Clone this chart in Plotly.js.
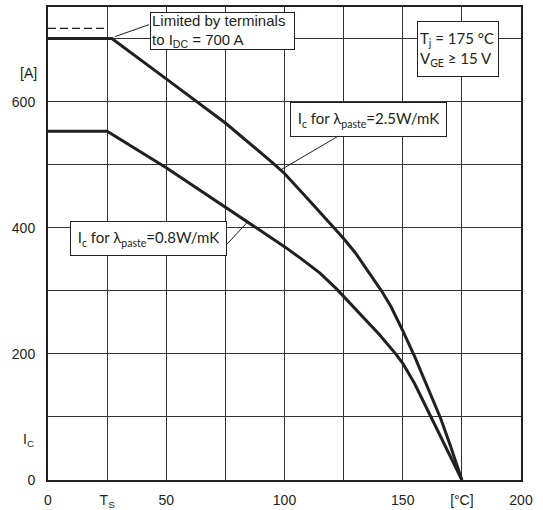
<!DOCTYPE html>
<html>
<head>
<meta charset="utf-8">
<script src="https://cdn.plot.ly/plotly-3.0.1.min.js"></script>
<style>html,body{margin:0;padding:0;background:#fff;}#chart{width:543px;height:510px;}</style>
</head>
<body>
<div id="chart"></div>
<script>
// Case temperature [°C]
const tempA = [0, 27, 50, 75, 95, 100, 110, 120.6, 125, 130, 135, 141, 145, 150, 155, 160, 166, 170, 175];
// Ic for lambda_paste = 2.5 W/mK [A]
const icPaste25 = [700, 700, 636, 566, 503, 486, 445, 401, 383, 360, 333, 300, 275, 237, 196, 152, 98, 56, 0];
const tempB = [0, 25, 50, 75, 85, 100, 107, 115, 122, 125, 130, 135, 140, 147, 150, 155, 161.5, 168, 175];
// Ic for lambda_paste = 0.8 W/mK [A]
const icPaste08 = [553, 553, 495, 433, 408, 370, 351, 328, 303, 291, 272, 252, 231, 200, 185, 153, 104, 54, 0];
// Terminal limit (dashed)
const tempLimit = [0, 25];
const icLimit = [716, 716];

const xTickVals = [0, 25, 50, 75, 100, 125, 150, 175, 200];
const xTickText = ['0', 'T<sub>S</sub>', '50', '', '100', '', '150', '[°C]', '200'];
const yTickVals = [0, 100, 200, 300, 400, 500, 600, 700];
const yTickText = ['0', '', '200', '', '400', '', '600', ''];

const curveColor = '#231f20';
const labelFont = {family: 'Lato, "Noto Sans", sans-serif', size: 15, color: '#231f20'};
const axisFont = {family: '"Liberation Sans", Arial, sans-serif', size: 14, color: '#231f20'};

const traces = [
  {x: tempA, y: icPaste25, mode: 'lines', line: {color: curveColor, width: 3}, hoverinfo: 'skip'},
  {x: tempB, y: icPaste08, mode: 'lines', line: {color: curveColor, width: 3}, hoverinfo: 'skip'},
  {x: tempLimit, y: icLimit, mode: 'lines', line: {color: curveColor, width: 1.3, dash: '8px,4px'}, hoverinfo: 'skip'}
];

const layout = {
  width: 543, height: 510,
  margin: {l: 48, r: 22, t: 7, b: 29.5},
  paper_bgcolor: '#fff', plot_bgcolor: '#fff',
  showlegend: false,
  font: axisFont,
  xaxis: {
    range: [0, 200], tickvals: xTickVals, ticktext: xTickText,
    showgrid: true, gridcolor: '#333', gridwidth: 1,
    showline: true, linecolor: '#231f20', linewidth: 2, mirror: true,
    ticks: '', zeroline: false, ticklabelstandoff: 6, tickfont: axisFont
  },
  yaxis: {
    range: [0, 750], tickvals: yTickVals, ticktext: yTickText,
    showgrid: true, gridcolor: '#333', gridwidth: 1,
    showline: true, linecolor: '#231f20', linewidth: 2, mirror: true,
    ticks: '', zeroline: false, ticklabelstandoff: 8, tickfont: axisFont
  },
  shapes: [
    {type: 'line', xref: 'x', yref: 'y', x0: 42.7, y0: 722, x1: 28.3, y1: 703, line: {color: curveColor, width: 1}},
    {type: 'line', xref: 'x', yref: 'y', x0: 122.6, y0: 545, x1: 98.1, y1: 491, line: {color: curveColor, width: 1}},
    {type: 'line', xref: 'x', yref: 'y', x0: 75.7, y0: 374, x1: 84.6, y1: 410, line: {color: curveColor, width: 1}}
  ],
  annotations: [
    {xref: 'x', yref: 'y', x: 73.8, y: 712, text: 'Limited by terminals<br>to I<sub>DC</sub> = 700 A',
     showarrow: false, align: 'left', xanchor: 'center', yanchor: 'middle',
     width: 141, height: 34, borderpad: 1, bgcolor: '#fff', bordercolor: curveColor, borderwidth: 1,
     font: {family: '"Liberation Sans", Arial, sans-serif', size: 15, color: '#231f20'}},
    {xref: 'x', yref: 'y', x: 173.2, y: 682.8, text: 'T<sub>j</sub> = 175 °C<br>V<sub>GE</sub> ≥ 15 V',
     showarrow: false, align: 'left', xanchor: 'center', yanchor: 'middle',
     width: 76, height: 50, borderpad: 2, bgcolor: '#fff', bordercolor: curveColor, borderwidth: 1,
     font: labelFont},
    {xref: 'x', yref: 'y', x: 135.7, y: 572.3, text: 'I<sub>c</sub> for λ<sub>paste</sub>=2.5W/mK',
     showarrow: false, align: 'center', xanchor: 'center', yanchor: 'middle',
     width: 151, height: 29, borderpad: 2, bgcolor: '#fff', bordercolor: curveColor, borderwidth: 1,
     font: labelFont},
    {xref: 'x', yref: 'y', x: 42.6, y: 382.4, text: 'I<sub>c</sub> for λ<sub>paste</sub>=0.8W/mK',
     showarrow: false, align: 'center', xanchor: 'center', yanchor: 'middle',
     width: 151, height: 29, borderpad: 2, bgcolor: '#fff', bordercolor: curveColor, borderwidth: 1,
     font: labelFont},
    {xref: 'paper', yref: 'y', x: -0.042, y: 646, text: '[A]', showarrow: false,
     xanchor: 'center', yanchor: 'middle', font: axisFont},
    {xref: 'paper', yref: 'y', x: -0.042, y: 64, text: 'I<sub>C</sub>', showarrow: false,
     xanchor: 'center', yanchor: 'middle', font: axisFont}
  ]
};

Plotly.newPlot('chart', traces, layout, {displayModeBar: false, staticPlot: true});
</script>
</body>
</html>
